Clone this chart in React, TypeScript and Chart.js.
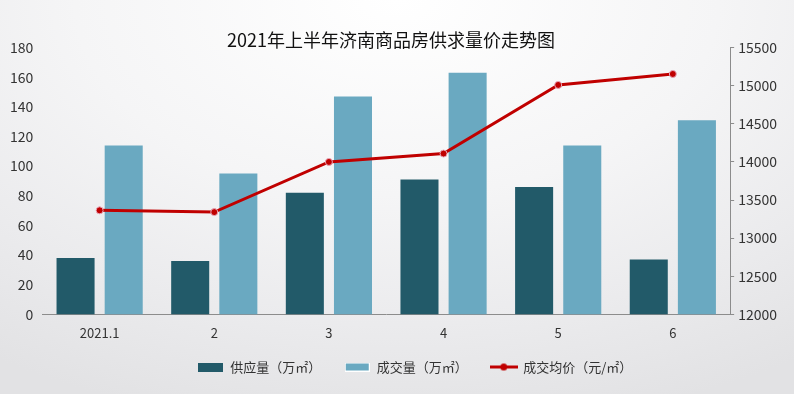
import React, { useEffect, useRef } from 'react';
import { Chart, registerables } from 'chart.js';

Chart.register(...registerables);

const TITLE = '2021年上半年济南商品房供求量价走势图';
const categories = ['2021.1', '2', '3', '4', '5', '6'];
const supply = [38, 36, 82, 91, 86, 37];
const deals = [114, 95, 147, 163, 114, 131];
const avgPrice = [13365, 13342, 14000, 14110, 15010, 15154];
const seriesNames = ['供应量（万㎡）', '成交量（万㎡）', '成交均价（元/㎡）'];
const leftAxis = { min: 0, max: 180, step: 20 };
const rightAxis = { min: 12000, max: 15500, step: 500 };

const DARK = '#225a69';
const LIGHT = '#6aa9c1';
const RED = '#c00000';
const FONT = '"Noto Sans CJK SC", "Noto Sans", sans-serif';

function rectIcon(color: string, border?: string) {
  const c = document.createElement('canvas');
  c.width = 25;
  c.height = 9;
  const ctx = c.getContext('2d')!;
  ctx.fillStyle = color;
  ctx.fillRect(0, 0, 25, 9);
  if (border) {
    ctx.strokeStyle = border;
    ctx.lineWidth = 1;
    ctx.strokeRect(0.5, 0.5, 24, 8);
  }
  return c;
}

function lineIcon() {
  const c = document.createElement('canvas');
  c.width = 28;
  c.height = 9;
  const ctx = c.getContext('2d')!;
  ctx.strokeStyle = RED;
  ctx.lineWidth = 3;
  ctx.beginPath();
  ctx.moveTo(0, 4.5);
  ctx.lineTo(28, 4.5);
  ctx.stroke();
  ctx.fillStyle = RED;
  ctx.beginPath();
  ctx.arc(14, 4.5, 3.5, 0, Math.PI * 2);
  ctx.fill();
  return c;
}

// nudge the legend block to where the reference places it
const legendShift = {
  id: 'legendShift',
  afterLayout(chart: any) {
    const lg = chart.legend;
    if (lg) {
      lg.left += 24;
      lg.right += 24;
      lg.top -= 14.5;
      lg.bottom -= 14.5;
    }
  },
};

export default function App() {
  const ref = useRef<HTMLCanvasElement>(null);

  useEffect(() => {
    if (!ref.current) return;
    const icons = [rectIcon(DARK), rectIcon(LIGHT, '#ffffff'), lineIcon()];
    const chart = new Chart(ref.current, {
      type: 'bar',
      data: {
        labels: categories,
        datasets: [
          {
            type: 'line',
            label: seriesNames[2],
            data: avgPrice,
            yAxisID: 'y1',
            borderColor: RED,
            borderWidth: 3,
            pointRadius: 3.5,
            pointBackgroundColor: RED,
            pointBorderColor: '#e6a6b8',
            pointBorderWidth: 1,
            tension: 0,
            order: 0,
          } as any,
          {
            label: seriesNames[0],
            data: supply,
            backgroundColor: DARK,
            yAxisID: 'y',
            categoryPercentage: 0.84,
            barPercentage: 0.79,
            order: 1,
          },
          {
            label: seriesNames[1],
            data: deals,
            backgroundColor: LIGHT,
            yAxisID: 'y',
            categoryPercentage: 0.84,
            barPercentage: 0.79,
            order: 1,
          },
        ],
      },
      plugins: [legendShift],
      options: {
        responsive: false,
        animation: false,
        layout: { padding: { left: 1, right: 13, top: 0, bottom: 0 } },
        plugins: {
          title: {
            display: true,
            text: TITLE,
            color: '#111',
            font: { family: FONT, size: 18, weight: 'normal' },
            padding: { top: 29, bottom: -3 },
          },
          legend: {
            position: 'bottom',
            maxHeight: 42,
            labels: {
              usePointStyle: true,
              pointStyleWidth: 26,
              boxHeight: 9,
              padding: 23,
              color: '#333',
              font: { family: FONT, size: 13 },
              generateLabels: (chart: any) => {
                const base = Chart.defaults.plugins.legend.labels.generateLabels(chart);
                const order = [1, 2, 0];
                return order.map((di, i) => {
                  const it = base.find((b: any) => b.datasetIndex === di)!;
                  return { ...it, pointStyle: icons[i], lineWidth: 0 };
                });
              },
            },
          },
          tooltip: { enabled: false },
        },
        scales: {
          x: {
            grid: { display: false, drawTicks: false },
            border: { display: true, color: '#8c8c8c', width: 1 },
            ticks: { color: '#333', font: { family: FONT, size: 13 }, padding: 11 },
          },
          y: {
            position: 'left',
            min: leftAxis.min,
            max: leftAxis.max,
            grid: { display: false, drawTicks: false },
            border: { display: false },
            ticks: { stepSize: leftAxis.step, color: '#333', font: { family: FONT, size: 14 }, padding: 9 },
          },
          y1: {
            position: 'right',
            min: rightAxis.min,
            max: rightAxis.max,
            grid: { drawOnChartArea: false, drawTicks: true, tickLength: 4, color: '#8c8c8c' },
            border: { display: true, color: '#8c8c8c', width: 1 },
            ticks: {
              stepSize: rightAxis.step,
              color: '#333',
              font: { family: FONT, size: 14 },
              padding: 4,
              callback: (v: any) => String(v),
            },
          },
        },
      },
    });
    return () => chart.destroy();
  }, []);

  return (
    <div
      style={{
        position: 'absolute',
        left: 0,
        top: 0,
        width: 794,
        height: 394,
        background:
          'radial-gradient(ellipse 90% 110% at 50% 0%, #ffffff 0%, #f5f5f6 45%, #ebebed 75%, #e2e2e4 100%)',
      }}
    >
      <canvas ref={ref} width={794} height={394} style={{ display: 'block' }} />
    </div>
  );
}
